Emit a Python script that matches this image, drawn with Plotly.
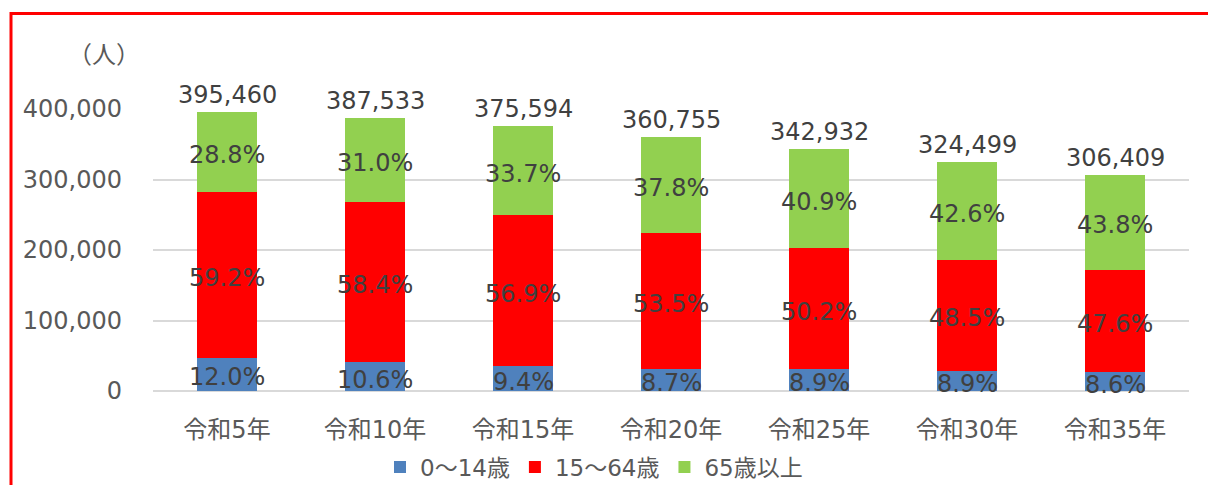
import plotly.graph_objects as go

categories = ["令和5年", "令和10年", "令和15年", "令和20年", "令和25年", "令和30年", "令和35年"]
totals = [395460, 387533, 375594, 360755, 342932, 324499, 306409]
pct_0_14 = [12.0, 10.6, 9.4, 8.7, 8.9, 8.9, 8.6]
pct_15_64 = [59.2, 58.4, 56.9, 53.5, 50.2, 48.5, 47.6]
pct_65 = [28.8, 31.0, 33.7, 37.8, 40.9, 42.6, 43.8]
series_names = ["0～14歳", "15～64歳", "65歳以上"]
colors = ["#4F81BD", "#FF0000", "#92D050"]

OFF = 8  # page body margin
W, H = 1216 - 2 * OFF, 493 - 2 * OFF
PL, PR, PT, PB = 153, 1189, 109, 391
ml = PL - OFF
mr = W - (PR - OFF)
mt = PT - OFF
mb = H - (PB - OFF)
FONT = "Verdana, DejaVu Sans, Noto Sans CJK JP, sans-serif"
TXT = "#404040"
GRAY = "#595959"

pcts = [pct_0_14, pct_15_64, pct_65]
vals = [[t * p / 100 for t, p in zip(totals, pc)] for pc in pcts]

fig = go.Figure()
for name, v, c in zip(series_names, vals, colors):
    fig.add_trace(go.Bar(x=categories, y=v, name=name, marker=dict(color=c, line=dict(width=0)),
                         hoverinfo="skip"))

base = [0.0] * len(categories)
for v, pc in zip(vals, pcts):
    for cat, b, x, p in zip(categories, base, v, pc):
        fig.add_annotation(x=cat, y=b + x / 2, text=f"{p:.1f}%", showarrow=False,
                           xanchor="center", yanchor="middle", yshift=-3,
                           font=dict(family=FONT, size=24, color=TXT))
    base = [b + x for b, x in zip(base, v)]

for cat, t in zip(categories, totals):
    fig.add_annotation(x=cat, y=t, text=f"{t:,}", showarrow=False,
                       xanchor="center", yanchor="middle", yshift=17,
                       font=dict(family=FONT, size=24, color=TXT))

pw = W - ml - mr
ph = H - mt - mb
def px2x(px):
    return (px - OFF - ml) / pw
def py2y(py):
    return (H - mb - (py - OFF)) / ph

fig.add_shape(type="rect", xref="paper", yref="paper",
              x0=px2x(11), x1=px2x(1260), y0=py2y(13.5), y1=py2y(540),
              line=dict(color="#FF0000", width=3), layer="above")

fig.add_annotation(text="（人）", xref="paper", yref="paper", x=px2x(104), y=py2y(55),
                   showarrow=False, font=dict(family=FONT, size=24, color=GRAY),
                   xanchor="center", yanchor="middle")

fig.update_layout(
    width=W, height=H, barmode="stack", bargap=0.6,
    margin=dict(l=ml, r=mr, t=mt, b=mb, autoexpand=False),
    plot_bgcolor="white", paper_bgcolor="white",
    font=dict(family=FONT, size=22, color=GRAY),
    legend=dict(orientation="h", x=px2x(594), xanchor="center", y=py2y(467), yanchor="middle",
                font=dict(family=FONT, size=23, color=GRAY), itemwidth=30,
                traceorder="normal"),
    xaxis=dict(showgrid=False, showline=False, tickfont=dict(size=24, color=GRAY), ticks="",
               ticklabelstandoff=22),
    yaxis=dict(range=[0, 400000], dtick=100000, tickformat=",d", gridcolor="#D9D9D9", gridwidth=2,
               zeroline=True, zerolinecolor="#D9D9D9", zerolinewidth=2,
               tickfont=dict(size=24, color=GRAY), ticks="", ticklabelstandoff=30),
)

fig.write_html("out.html")
